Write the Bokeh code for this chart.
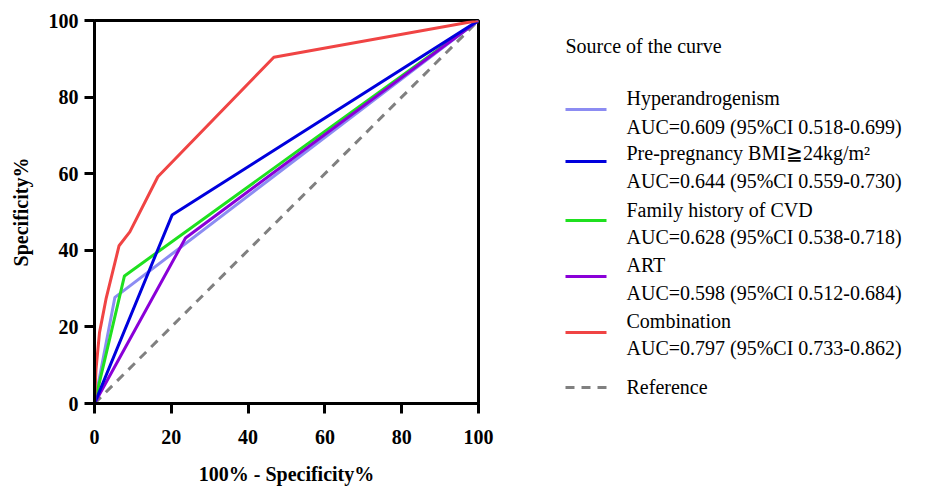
from bokeh.plotting import figure
from bokeh.models import Range1d, FixedTicker
from bokeh.layouts import row
from bokeh.core.properties import value
from bokeh.embed import file_html
from bokeh.resources import INLINE

# ---- data ----
hyper_x = [0, 5.3, 100]
hyper_y = [0, 27.7, 100]
bmi_x = [0, 20.2, 100]
bmi_y = [0, 49.2, 100]
fam_x = [0, 7.8, 100]
fam_y = [0, 33.3, 100]
art_x = [0, 23.7, 100]
art_y = [0, 43.2, 100]
comb_x = [0, 0.4, 1.3, 3.0, 6.4, 9.2, 16.5, 46.7, 100]
comb_y = [0, 9.0, 18.5, 27.3, 41.2, 44.8, 59.2, 90.4, 100]
ref_x = [0, 100]
ref_y = [0, 100]
ticks = [0, 20, 40, 60, 80, 100]

names = ["Hyperandrogenism", "Pre-pregnancy BMI\u226724kg/m\u00b2", "Family history of CVD", "ART", "Combination"]
aucs = ["AUC=0.609 (95%CI 0.518-0.699)", "AUC=0.644 (95%CI 0.559-0.730)",
        "AUC=0.628 (95%CI 0.538-0.718)", "AUC=0.598 (95%CI 0.512-0.684)",
        "AUC=0.797 (95%CI 0.733-0.862)"]
colors = ["#8c8cf2", "#0000dd", "#1fe01f", "#8a00d8", "#f04444"]
ref_color = "#808080"

SERIF = value("Liberation Serif")
FW, FH = 384, 383
MB_L, MB_R, MB_T, MB_B = 94, 20, 20, 80

p = figure(frame_width=FW, frame_height=FH, x_range=Range1d(0, 100), y_range=Range1d(0, 100),
           output_backend="svg", toolbar_location=None,
           min_border_left=MB_L, min_border_right=MB_R, min_border_top=MB_T, min_border_bottom=MB_B)
p.grid.visible = False
p.outline_line_color = "black"
p.outline_line_width = 3
p.background_fill_color = "white"
p.border_fill_color = "white"

for ax in (p.xaxis[0], p.yaxis[0]):
    ax.ticker = FixedTicker(ticks=ticks)
    ax.axis_line_width = 3
    ax.axis_line_color = "black"
    ax.major_tick_line_width = 3
    ax.major_tick_out = 10
    ax.major_tick_in = 0
    ax.minor_tick_out = 0
    ax.minor_tick_in = 0
    ax.major_label_text_font = "Liberation Serif"
    ax.major_label_text_font_style = "bold"
    ax.major_label_text_font_size = "20px"
    ax.major_label_text_color = "black"
    ax.axis_label_text_font = "Liberation Serif"
    ax.axis_label_text_font_style = "bold"
    ax.axis_label_text_font_size = "20px"
    ax.axis_label_text_color = "black"

p.xaxis.axis_label = "100% - Specificity%"
p.yaxis.axis_label = "Specificity%"
p.xaxis.major_label_standoff = 16
p.xaxis.axis_label_standoff = 16
p.yaxis.major_label_standoff = 6
p.yaxis.axis_label_standoff = 14

p.line(ref_x, ref_y, line_color=ref_color, line_width=3, line_dash="9 7")
p.line(hyper_x, hyper_y, line_color=colors[0], line_width=3)
p.line(fam_x, fam_y, line_color=colors[2], line_width=3)
p.line(art_x, art_y, line_color=colors[3], line_width=3)
p.line(bmi_x, bmi_y, line_color=colors[1], line_width=3)
p.line(comb_x, comb_y, line_color=colors[4], line_width=3)

# ---- legend panel (frame aligned with main frame; y measured from frame top) ----
LW = 411
q = figure(frame_width=LW, frame_height=FH, x_range=Range1d(0, LW), y_range=Range1d(FH, 0),
           output_backend="svg", toolbar_location=None, x_axis_type=None, y_axis_type=None,
           min_border_left=0, min_border_right=0, min_border_top=MB_T, min_border_bottom=MB_B)
q.grid.visible = False
q.outline_line_color = None
q.border_fill_color = "white"

sw_x0, sw_x1, txt_x = 67, 108, 128
name_y = [77, 132, 189, 244, 300]
auc_y = [106, 160, 216, 272, 327]
swatch_y = [89, 141, 200, 256, 312]

q.text(x=[sw_x0], y=[25], text=["Source of the curve"], text_font=SERIF,
       text_font_size="20px", text_baseline="middle", text_color="black")
q.text(x=[txt_x] * 5, y=name_y, text=names, text_font=SERIF, text_font_size="20px",
       text_baseline="middle", text_color="black")
q.text(x=[txt_x] * 5, y=auc_y, text=aucs, text_font=SERIF, text_font_size="20px",
       text_baseline="middle", text_color="black")
for c, yy in zip(colors, swatch_y):
    q.line([sw_x0, sw_x1], [yy, yy], line_color=c, line_width=3)
q.line([sw_x0, sw_x1], [367, 367], line_color=ref_color, line_width=3, line_dash="9 7")
q.text(x=[txt_x], y=[366], text=["Reference"], text_font=SERIF, text_font_size="20px",
       text_baseline="middle", text_color="black")

layout = row(p, q)
open("out.html", "w").write(file_html(layout, INLINE))
